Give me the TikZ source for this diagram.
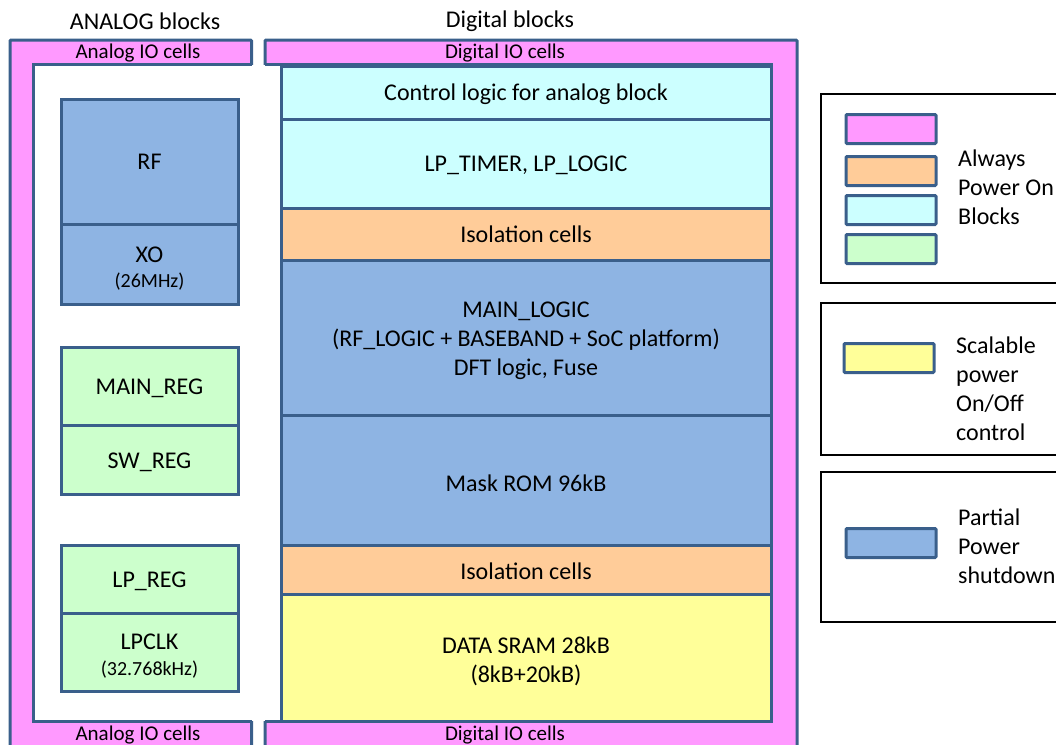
\documentclass[tikz,border=0pt]{standalone}
\usepackage{fontspec}
\setmainfont{Carlito}

\definecolor{edge}{HTML}{3A5F8B}
\definecolor{iopink}{HTML}{FF99FF}
\definecolor{aoncyan}{HTML}{CCFFFF}
\definecolor{isoorange}{HTML}{FFCC99}
\definecolor{ppblue}{HTML}{8EB4E3}
\definecolor{reggreen}{HTML}{CCFFCC}
\definecolor{sramyellow}{HTML}{FFFF99}

\newcommand\mainf{\fontsize{24}{29}\selectfont}
\newcommand\smallf{\fontsize{20}{24}\selectfont}
\newcommand\iof{\fontsize{21}{24}\selectfont}

% a block given by its top-left and bottom-right corners (y grows downward);
% #7 nudges the centred text vertically
\newcommand\blockbox[8]{%
  \node[blk,fill=#6,anchor=north west,
        minimum width={(#4-#2)*1pt},minimum height={(#5-#3)*1pt},
        label={[blktext,yshift=#7pt]center:#8}]
        (#1) at (#2,#3) {};}

\begin{document}
\begin{tikzpicture}[x=1pt,y=-1pt,
  blk/.style={draw=edge,line width=3pt,inner sep=0pt,outer sep=0pt},
  blktext/.style={align=center,font=\mainf,inner sep=0pt},
  frame/.style={draw=edge,line width=3pt,fill=iopink},
  legbox/.style={draw=black,line width=1.3pt},
  swatch/.style={draw=edge,line width=3pt,inner sep=0pt,outer sep=0pt,
                 minimum width=90pt,minimum height=29pt,rounded corners=1pt},
  legtext/.style={anchor=west,align=left,font=\mainf,inner sep=0pt},
  iolabel/.style={font=\iof,inner sep=0pt},
  heading/.style={font=\mainf,inner sep=0pt}]

\useasboundingbox (0,0) rectangle (1056,744);
\clip (0,0) rectangle (1056,744);

% headings
\node[heading] (hana) at (145,21) {ANALOG blocks};
\node[heading] (hdig) at (510,21) {Digital blocks};

% IO ring frames
\path[frame,rounded corners=1pt] (10,40) rectangle (251.5,780);
\path[frame,rounded corners=1pt] (265,40) rectangle (797,780);
\fill[white] (33,64.5) rectangle (771,721);
\draw[edge,line width=3pt] (251.5,64.5) -- (33,64.5) -- (33,721) -- (251.5,721);
\draw[edge,line width=3pt] (265,64.5) -- (771,64.5) -- (771,721) -- (265,721);

\node[iolabel] (aiotop) at (138,53) {Analog IO cells};
\node[iolabel] (diotop) at (505,53) {Digital IO cells};
\node[iolabel] (aiobot) at (138,735) {Analog IO cells};
\node[iolabel] (diobot) at (505,735) {Digital IO cells};

% digital blocks
\blockbox{ctrl}{281}{66}{771}{119}{aoncyan}{-2}{Control logic for analog block}
\blockbox{lptimer}{281}{119}{771}{208}{aoncyan}{-1.5}{LP\_TIMER, LP\_LOGIC}
\blockbox{isoa}{281}{208}{771}{260}{isoorange}{-0.5}{Isolation cells}
\blockbox{mainlogic}{281}{260}{771}{415}{ppblue}{-3}{MAIN\_LOGIC\\(RF\_LOGIC + BASEBAND + SoC platform)\\DFT logic, Fuse}
\blockbox{rom}{281}{415}{771}{545}{ppblue}{-3}{Mask ROM 96kB}
\blockbox{isob}{281}{545}{771}{594}{isoorange}{-1.5}{Isolation cells}
\blockbox{sram}{281}{594}{771}{721}{sramyellow}{-4}{DATA SRAM 28kB\\(8kB+20kB)}

% analog blocks
\blockbox{rf}{61}{99}{238}{224}{ppblue}{0}{RF}
\blockbox{xo}{61}{224}{238}{304}{ppblue}{-5}{XO\\[-4pt]{\smallf (26MHz)}}
\blockbox{mainreg}{61}{347}{238}{425}{reggreen}{-2}{MAIN\_REG}
\blockbox{swreg}{61}{425}{238}{494}{reggreen}{-3}{SW\_REG}
\blockbox{lpreg}{61}{545}{238}{613}{reggreen}{-2}{LP\_REG}
\blockbox{lpclk}{61}{613}{238}{691}{reggreen}{-4.5}{LPCLK\\[-3pt]{\smallf (32.768kHz)}}

% legend
\draw[legbox] (821,94) rectangle (1075,283);
\draw[legbox] (821,303) rectangle (1075,455);
\draw[legbox] (821,472) rectangle (1075,622);

\node[swatch,fill=iopink]     (kio)   at (891,129) {};
\node[swatch,fill=isoorange]  (kiso)  at (891,171) {};
\node[swatch,fill=aoncyan]    (kaon)  at (891,210) {};
\node[swatch,fill=reggreen]   (kreg)  at (891,249) {};
\node[legtext] (tal) at (958,187) {Always\\Power On\\Blocks};

\node[swatch,fill=sramyellow] (ksc)  at (889,358) {};
\node[legtext] (tsc) at (956,389) {Scalable\\power\\On/Off\\control};

\node[swatch,fill=ppblue]     (kpp)  at (891,543) {};
\node[legtext] (tpp) at (958,546) {Partial\\Power\\shutdown};
\end{tikzpicture}
\end{document}
